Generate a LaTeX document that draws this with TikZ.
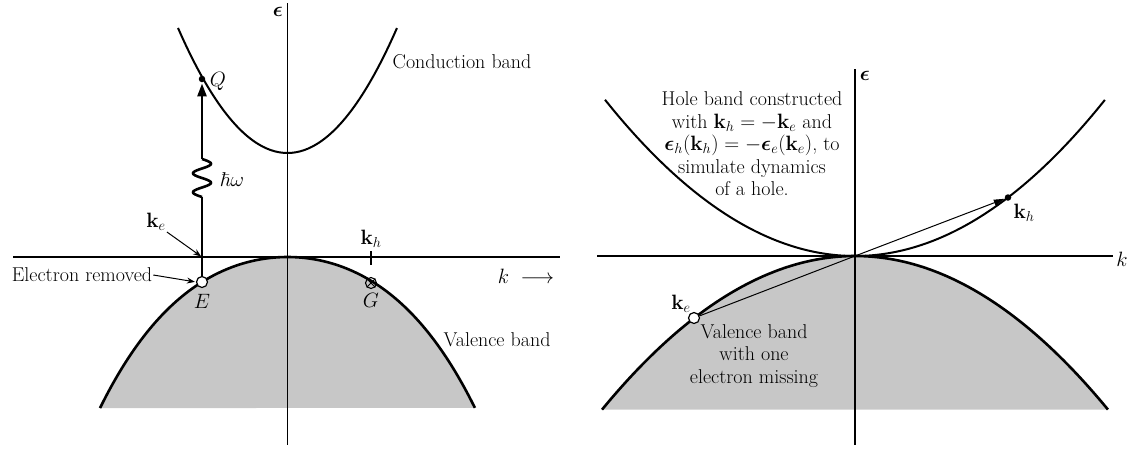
\documentclass[tikz,border=0pt]{standalone}
\usepackage{amsmath,amssymb}
\usetikzlibrary{arrows.meta,calc}
\begin{document}
\begin{tikzpicture}[x=1pt,y=-1pt,
  every node/.style={font=\fontsize{20}{22.5}\selectfont, inner sep=1pt},
  axis/.style={line width=1.1pt},
  band/.style={line width=2pt},
  vband/.style={line width=2.6pt},
  bandfill/.style={fill=black!22},
  ptr/.style={line width=1pt,-{Stealth[length=8pt,width=6pt]}},
  hole/.style={circle,draw,fill=white,line width=1.2pt,inner sep=0pt,minimum size=11pt},
  dot/.style={circle,fill=black,inner sep=0pt,minimum size=6.5pt},
  thickline/.style={line width=2.6pt},
]
\useasboundingbox (0,0) rectangle (1133,451);

% ================= LEFT PANEL =================
\fill[bandfill] plot[domain=-1.875:1.875,samples=80,smooth] ({287.5+100*\x},{257+31.9*\x*\x+3.15*\x*\x*\x*\x}) -- cycle;
\draw[axis] (287.5,3) -- (287.5,445);
\draw[axis] (13,257) -- (560,257);
\draw[band] plot[domain=-1.095:1.095,samples=60,smooth] ({287.5+100*\x},{153-104.3*\x*\x});
\draw[vband] plot[domain=-1.875:1.875,samples=80,smooth] ({287.5+100*\x},{257+31.9*\x*\x+3.15*\x*\x*\x*\x});

\node (eps1) at (278,12) {$\boldsymbol{\epsilon}$};
\node (cb) at (462,62) {Conduction band};
\node (vb) at (497,340) {Valence band};
\node (kax) at (526,276) {$k\;\longrightarrow$};

% transition
\node[dot] (Q) at (202,79) {};
\node[hole] (E) at (202,282) {};
\coordinate (Ax) at (202,257);
\coordinate (Wb) at (202,197);
\coordinate (Wt) at (202,159);
\draw[thickline] (E) -- (Ax);
\draw[line width=1.1pt] (Ax) -- (Wb);
\draw[thickline,line join=round] plot[domain=0:1,samples=70,smooth] ({202-9*sin(720*\x)},{197-38*\x});
\draw[thickline,-{Triangle[length=13pt,width=9pt]},shorten >=1pt] (Wt) -- (Q.south);

\node (Ql) at (218,81) {$Q$};
\node (El) at (202,301) {$E$};
\node (hw) at (232,180) {$\hbar\omega$};
\node (ke) at (156,222) {$\mathbf{k}_e$};
\draw[ptr,shorten >=1pt] (ke.south east) -- (Ax);
\node (er) at (82,275) {Electron removed};
\draw[ptr,shorten >=1pt] (er.east) -- (E.west);

% hole point G
\node[circle,draw,line width=1.1pt,inner sep=0pt,minimum size=11pt] (G) at (371,283) {};
\draw[line width=1pt] (G.north east) -- (G.south west) (G.north west) -- (G.south east);
\node (Gl) at (371,300) {$G$};
\coordinate (tk) at (371,251);
\draw[axis] (tk) -- ++(0,14);
\node (kh) at (371,239) {$\mathbf{k}_h$};

% ================= RIGHT PANEL =================
\fill[bandfill] plot[domain=-2.53:2.53,samples=80,smooth] ({855+100*\x},{256+24*\x*\x}) -- cycle;
\draw[axis] (855,69) -- (855,445);
\draw[axis] (597,256) -- (1113,256);
\draw[band] plot[domain=-2.5:2.5,samples=80,smooth] ({855+100*\x},{256-25*\x*\x});
\draw[vband] plot[domain=-2.53:2.53,samples=80,smooth] ({855+100*\x},{256+24*\x*\x});

\node (eps2) at (865,76) {$\boldsymbol{\epsilon}$};
\node (k2) at (1122,259) {$k$};

\coordinate (O) at (855,256);
\node[hole] (ke2) at (694,318) {};
\node[dot] (kh2) at (1008,197.5) {};
\draw[line width=1pt] (ke2) -- (O);
\draw[line width=1pt,-{Triangle[length=11pt,width=6pt]}] (O) -- (kh2);
\node (ke2l) at (681,304) {$\mathbf{k}_e$};
\node (kh2l) at (1024,213) {$\mathbf{k}_h$};

\node[align=center] (holetxt) at (752,144) {Hole band constructed\\ with $\mathbf{k}_h = -\mathbf{k}_e$ and\\ $\boldsymbol{\epsilon}_h(\mathbf{k}_h) = -\boldsymbol{\epsilon}_e(\mathbf{k}_e)$, to\\ simulate dynamics\\ of a hole.};
\node[align=center] (vtxt) at (754,356) {Valence band\\ with one\\ electron missing};
\end{tikzpicture}
\end{document}
